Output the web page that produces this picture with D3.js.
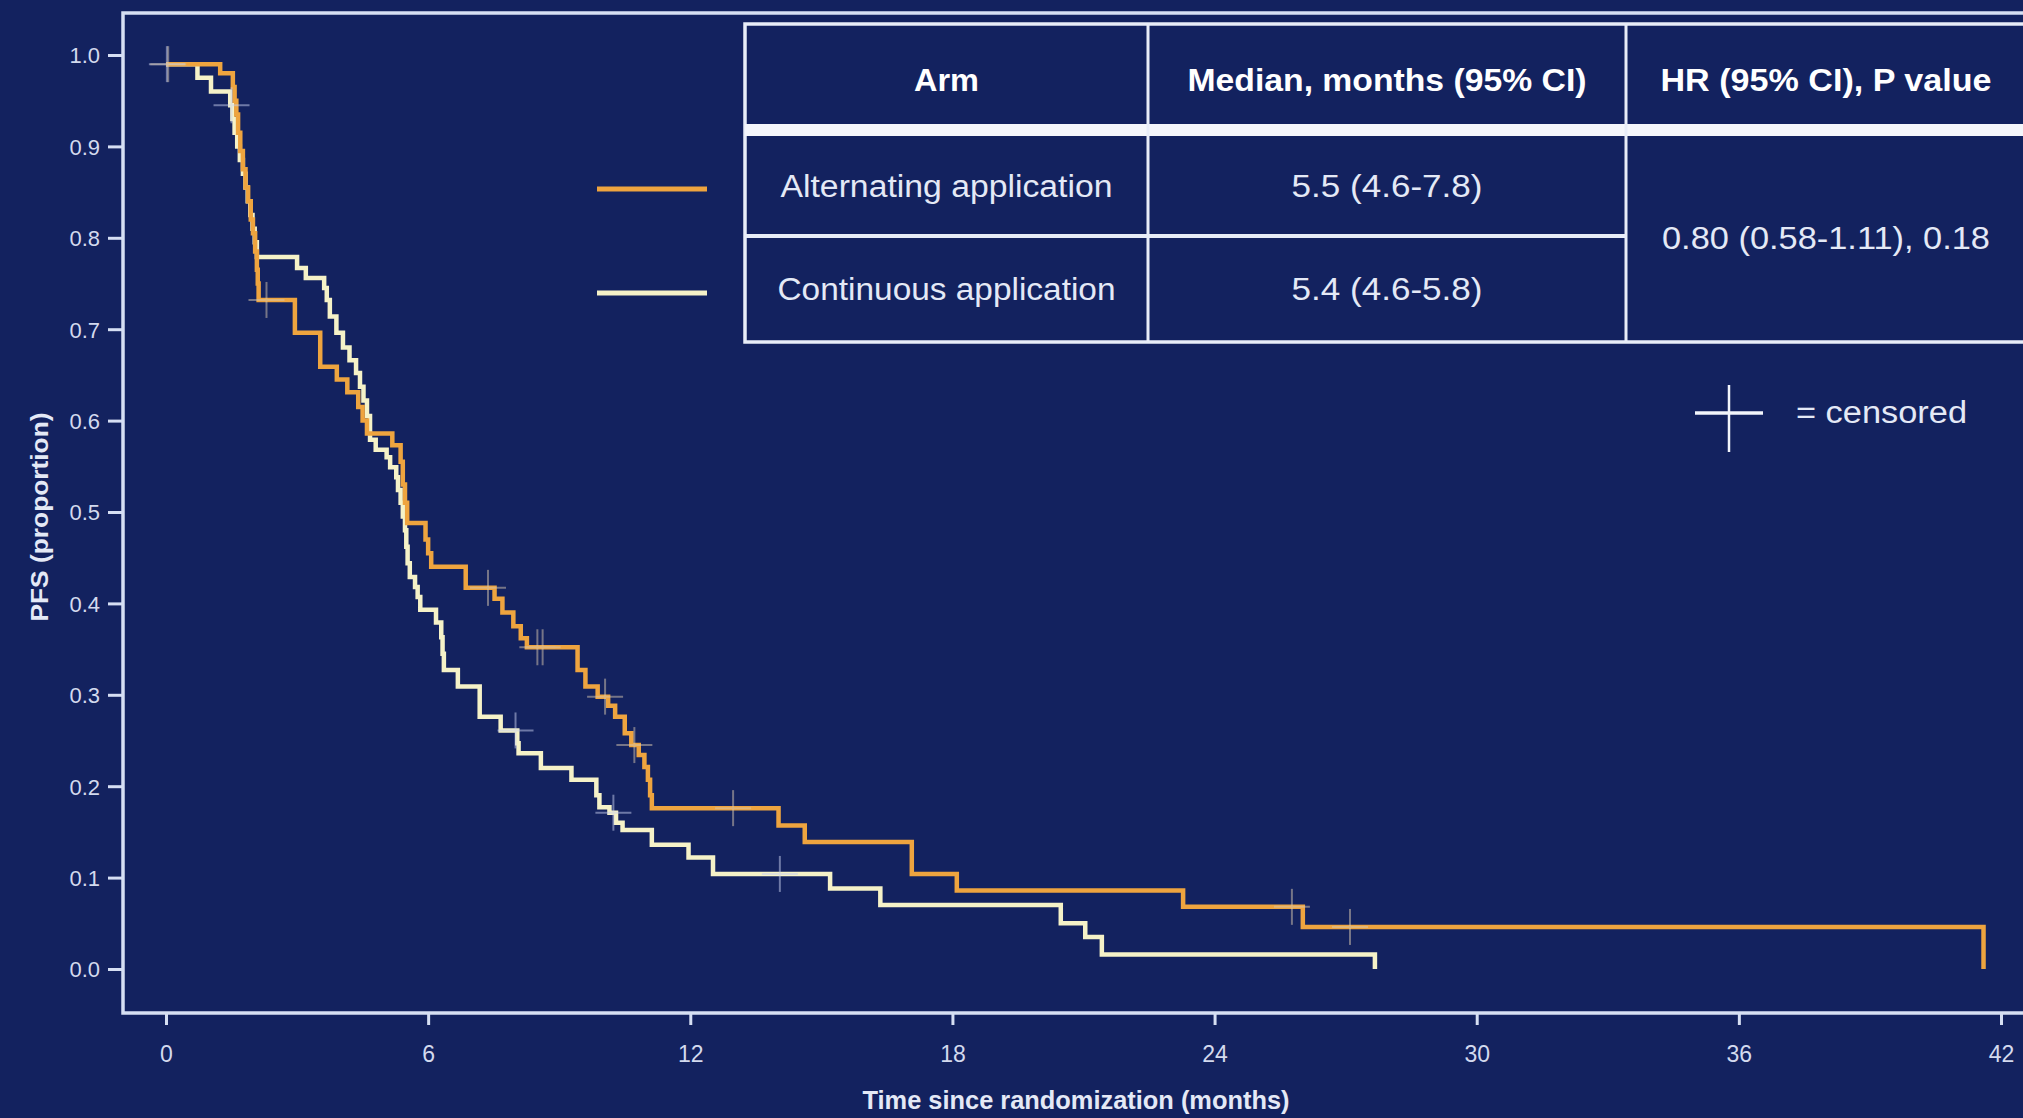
<!DOCTYPE html>
<html>
<head>
<meta charset="utf-8">
<script src="https://cdn.jsdelivr.net/npm/d3@7"></script>
<style>
  html, body { margin: 0; padding: 0; background: #13225f; }
  svg { display: block; }
</style>
</head>
<body>
<svg id="chart" width="2023" height="1118"></svg>
<script>
// ---------------- DATA ----------------
const altTimes = [0, 1.24, 1.53, 1.57, 1.61, 1.65, 1.7, 1.76, 1.82, 1.88, 1.94, 1.99, 2.04, 2.08, 2.1, 2.12,
  2.95, 3.53, 3.91, 4.15, 4.4, 4.5, 4.6, 5.18, 5.37, 5.42, 5.47, 5.52, 5.94, 6.0, 6.07, 6.86,
  7.52, 7.7, 7.95, 8.12, 8.26, 9.42, 9.6, 9.88, 10.12, 10.28, 10.5, 10.65, 10.82, 10.95, 11.03, 11.08, 11.12,
  14.02, 14.62, 17.07, 18.1, 23.28, 26.02, 41.6];
const altSurv = [0.99, 0.98, 0.965, 0.95, 0.935, 0.915, 0.895, 0.875, 0.855, 0.84, 0.82, 0.805, 0.785, 0.765, 0.75, 0.732,
  0.696, 0.659, 0.645, 0.631, 0.615, 0.60, 0.586, 0.573, 0.555, 0.53, 0.51, 0.488, 0.47, 0.455, 0.44, 0.417,
  0.405, 0.39, 0.375, 0.362, 0.352, 0.327, 0.309, 0.298, 0.288, 0.276, 0.258, 0.245, 0.234, 0.221, 0.207, 0.19, 0.176,
  0.157, 0.139, 0.104, 0.086, 0.068, 0.046, 0];

const contTimes = [0, 0.72, 1.03, 1.47, 1.52, 1.57, 1.63, 1.69, 1.76, 1.82, 1.87, 1.93, 1.98, 2.03, 2.08,
  3.0, 3.2, 3.62, 3.68, 3.75, 3.9, 4.05, 4.2, 4.35, 4.44, 4.52, 4.6, 4.67, 4.8, 5.05, 5.13, 5.27, 5.31, 5.37,
  5.42, 5.47, 5.5, 5.53, 5.58, 5.7, 5.76, 5.82, 6.18, 6.3, 6.33, 6.36, 6.68, 7.18, 7.66, 8.04, 8.07, 8.58,
  9.28, 9.85, 9.92, 10.15, 10.3, 10.45, 11.12, 11.96, 12.52, 15.2, 16.35, 20.48, 21.04, 21.42, 27.67];
const contSurv = [0.99, 0.975, 0.96, 0.945, 0.93, 0.915, 0.90, 0.885, 0.87, 0.855, 0.84, 0.825, 0.81, 0.795, 0.779,
  0.767, 0.756, 0.745, 0.732, 0.714, 0.696, 0.68, 0.666, 0.652, 0.637, 0.622, 0.605, 0.579, 0.568, 0.56, 0.549, 0.538, 0.524, 0.51,
  0.495, 0.48, 0.462, 0.444, 0.429, 0.418, 0.407, 0.393, 0.379, 0.363, 0.345, 0.327, 0.309, 0.276, 0.261, 0.247, 0.236, 0.22,
  0.207, 0.19, 0.177, 0.171, 0.16, 0.152, 0.136, 0.122, 0.104, 0.088, 0.07, 0.05, 0.035, 0.016, 0];

const altCensor = [0.05, 2.3, 7.37, 8.5, 8.62, 10.05, 10.72, 12.98, 25.77, 27.1];
const contCensor = [0.02, 1.5, 8.0, 10.24, 14.05];

const xTicks = [0, 6, 12, 18, 24, 30, 36, 42];
const yTicks = [0, 0.1, 0.2, 0.3, 0.4, 0.5, 0.6, 0.7, 0.8, 0.9, 1.0];

const xLabel = "Time since randomization (months)";
const yLabel = "PFS (proportion)";

const tableHeaders = ["Arm", "Median, months (95% CI)", "HR (95% CI), P value"];
const armNames = ["Alternating application", "Continuous application"];
const medians = ["5.5 (4.6-7.8)", "5.4 (4.6-5.8)"];
const hrText = "0.80 (0.58-1.11), 0.18";
const censorLabel = "= censored";

// ---------------- STYLE ----------------
const bg = "#13225f";
const frameCol = "#d6dff3";
const textCol = "#e4e9f6";
const tickTextCol = "#d3daee";
const altCol = "#eea43f";
const contCol = "#f5f2c8";
const FONT = "'Liberation Sans', Arial, Helvetica, sans-serif";

const svg = d3.select("#chart");
svg.append("rect").attr("width", 2023).attr("height", 1118).attr("fill", bg);

const x = d3.scaleLinear().domain([0, 42]).range([166, 2001]);
const y = d3.scaleLinear().domain([0, 1]).range([969, 55]);

// frame
svg.append("rect")
  .attr("x", 123).attr("y", 13).attr("width", 2020).attr("height", 1000)
  .attr("fill", "none").attr("stroke", frameCol).attr("stroke-width", 3.5);

// y axis
const yAxis = svg.append("g")
  .attr("transform", "translate(122,0)")
  .call(d3.axisLeft(y).tickValues(yTicks).tickFormat(d3.format(".1f")).tickSize(14).tickPadding(8));
yAxis.select(".domain").remove();
yAxis.selectAll("line").attr("stroke", frameCol).attr("stroke-width", 3);
yAxis.selectAll("text").attr("fill", tickTextCol).attr("font-family", FONT).attr("font-size", 22).attr("dy", "0.36em");

// x axis
const xAxis = svg.append("g")
  .attr("transform", "translate(0,1013)")
  .call(d3.axisBottom(x).tickValues(xTicks).tickFormat(d3.format("d")).tickSize(12));
xAxis.select(".domain").remove();
xAxis.selectAll("line").attr("stroke", frameCol).attr("stroke-width", 3);
xAxis.selectAll("text").attr("fill", tickTextCol).attr("font-family", FONT).attr("font-size", 23)
  .attr("y", 49).attr("dy", 0);

// axis titles
svg.append("text")
  .attr("x", 1076).attr("y", 1109).attr("text-anchor", "middle")
  .attr("fill", textCol).attr("font-family", FONT).attr("font-weight", "bold").attr("font-size", 25)
  .attr("textLength", 427).attr("lengthAdjust", "spacingAndGlyphs")
  .text(xLabel);
svg.append("text")
  .attr("transform", "translate(48,517) rotate(-90)")
  .attr("text-anchor", "middle")
  .attr("fill", textCol).attr("font-family", FONT).attr("font-weight", "bold").attr("font-size", 23)
  .attr("textLength", 209).attr("lengthAdjust", "spacingAndGlyphs")
  .text(yLabel);

// ---------------- CURVES ----------------
const line = d3.line().x(d => x(d[0])).y(d => y(d[1])).curve(d3.curveStepAfter);
const altData = altTimes.map((t, i) => [t, altSurv[i]]);
const contData = contTimes.map((t, i) => [t, contSurv[i]]);

function survAt(times, surv, t) {
  let s = surv[0];
  for (let i = 0; i < times.length; i++) { if (times[i] <= t) s = surv[i]; }
  return s;
}

const cross = 18;
function drawCensors(times, surv, list, col) {
  const g = svg.append("g").attr("stroke", col).attr("stroke-width", 2).attr("opacity", 0.5);
  list.forEach(t => {
    const cx = x(t), cy = y(survAt(times, surv, t));
    g.append("line").attr("x1", cx - cross).attr("x2", cx + cross).attr("y1", cy).attr("y2", cy);
    g.append("line").attr("x1", cx).attr("x2", cx).attr("y1", cy - cross).attr("y2", cy + cross);
  });
}

svg.append("path").datum(contData).attr("d", line)
  .attr("fill", "none").attr("stroke", contCol).attr("stroke-width", 4.5);
svg.append("path").datum(altData).attr("d", line)
  .attr("fill", "none").attr("stroke", altCol).attr("stroke-width", 4.5);

drawCensors(contTimes, contSurv, contCensor, "#c8d0ee");
drawCensors(altTimes, altSurv, altCensor, "#d8c8b0");

// ---------------- TABLE ----------------
const tbl = svg.append("g");
const tL = 745, tR = 2030, tT = 24, tB = 342, c1 = 1148, c2 = 1626, hB = 124, rMid = 236;
tbl.append("rect").attr("x", tL).attr("y", tT).attr("width", tR - tL).attr("height", tB - tT)
  .attr("fill", bg).attr("stroke", "#e8edf8").attr("stroke-width", 3.5);
tbl.append("rect").attr("x", tL).attr("y", hB).attr("width", tR - tL).attr("height", 12).attr("fill", "#f4f6fb");
[c1, c2].forEach(cx => tbl.append("line").attr("x1", cx).attr("x2", cx).attr("y1", tT).attr("y2", tB)
  .attr("stroke", "#e8edf8").attr("stroke-width", 3));
tbl.append("line").attr("x1", tL).attr("x2", c2).attr("y1", rMid).attr("y2", rMid)
  .attr("stroke", "#e8edf8").attr("stroke-width", 4);

const colCenters = [(tL + c1) / 2, (c1 + c2) / 2, 1826];
const headerLens = [65, 399, 331];
tableHeaders.forEach((h, i) => {
  tbl.append("text").attr("x", colCenters[i]).attr("y", 91).attr("text-anchor", "middle")
    .attr("fill", "#ffffff").attr("font-family", FONT).attr("font-weight", "bold").attr("font-size", 31)
    .attr("textLength", headerLens[i]).attr("lengthAdjust", "spacingAndGlyphs").text(h);
});
const rowBase = [197, 300];
const armLens = [332, 338];
armNames.forEach((a, i) => {
  tbl.append("text").attr("x", colCenters[0]).attr("y", rowBase[i]).attr("text-anchor", "middle")
    .attr("fill", textCol).attr("font-family", FONT).attr("font-size", 31)
    .attr("textLength", armLens[i]).attr("lengthAdjust", "spacingAndGlyphs").text(a);
  tbl.append("text").attr("x", colCenters[1]).attr("y", rowBase[i]).attr("text-anchor", "middle")
    .attr("fill", textCol).attr("font-family", FONT).attr("font-size", 31)
    .attr("textLength", 191).attr("lengthAdjust", "spacingAndGlyphs").text(medians[i]);
});
tbl.append("text").attr("x", colCenters[2]).attr("y", 249).attr("text-anchor", "middle")
  .attr("fill", textCol).attr("font-family", FONT).attr("font-size", 31)
  .attr("textLength", 328).attr("lengthAdjust", "spacingAndGlyphs").text(hrText);

// legend lines
const legCols = [altCol, contCol];
const legY = [189, 293];
legCols.forEach((c, i) => {
  svg.append("line").attr("x1", 597).attr("x2", 707).attr("y1", legY[i]).attr("y2", legY[i])
    .attr("stroke", c).attr("stroke-width", 5);
});

// censored legend
svg.append("line").attr("x1", 1695).attr("x2", 1763).attr("y1", 413).attr("y2", 413)
  .attr("stroke", "#f2f5fb").attr("stroke-width", 3.5);
svg.append("line").attr("x1", 1729).attr("x2", 1729).attr("y1", 385).attr("y2", 452)
  .attr("stroke", "#f2f5fb").attr("stroke-width", 2.5);
svg.append("text").attr("x", 1796).attr("y", 423)
  .attr("fill", textCol).attr("font-family", FONT).attr("font-size", 31)
  .attr("textLength", 171).attr("lengthAdjust", "spacingAndGlyphs").text(censorLabel);
</script>
</body>
</html>
